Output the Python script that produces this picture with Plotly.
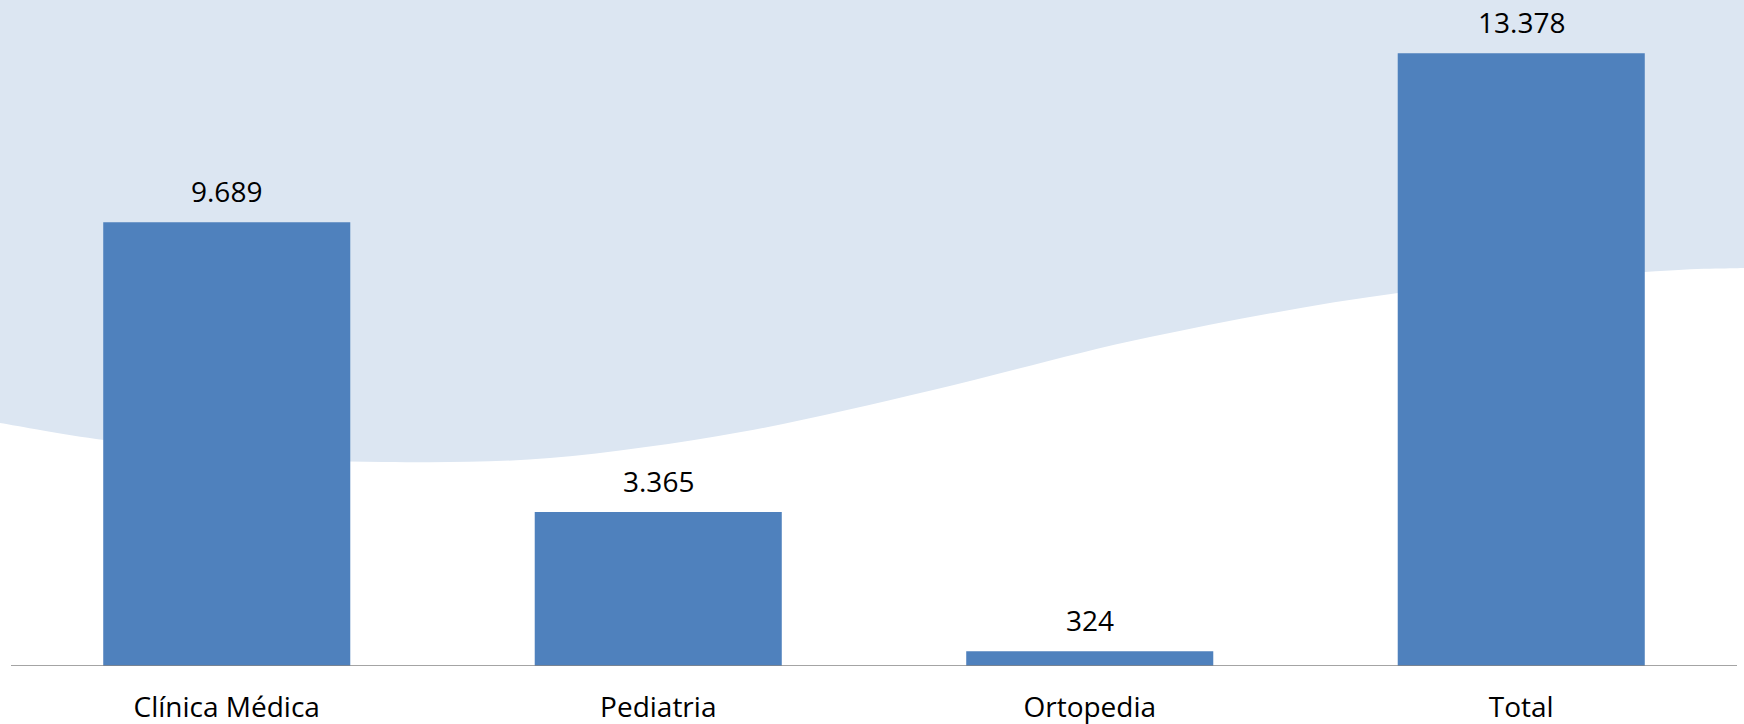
import plotly.graph_objects as go

# ---- data ----
categories = ["Clínica Médica", "Pediatria", "Ortopedia", "Total"]
values = [9689, 3365, 324, 13378]

# ---- decorative background wave (page pixels: x, y of the lower edge) ----
WAVE_EDGE = [(0, 423), (104, 440), (250, 456), (383, 462), (550, 458), (741, 432),
             (933, 390), (1150, 337), (1398, 293), (1645, 272), (1744, 268)]

W, H = 1744, 724
MB = 58
AXIS_LEFT, AXIS_RIGHT = 11, 1737   # pixel extent of the category axis line
Y_MAX = 14541

BAR_COLOR = "#4F81BD"
WAVE_COLOR = "#DCE6F2"
FONT = "Open Sans"

n_cat = len(categories)
slot = (AXIS_RIGHT - AXIS_LEFT) / n_cat
x_lo = -0.5 - AXIS_LEFT / slot
x_hi = n_cat - 0.5 + (W - AXIS_RIGHT) / slot


def to_paper(px, py):
    return px / W, (H - MB - py) / (H - MB)


def wave_path():
    pts = [to_paper(x, y) for x, y in WAVE_EDGE]
    p0 = to_paper(0, -5)
    p1 = to_paper(W, -5)
    d = f"M {p0[0]},{p0[1]} L {pts[0][0]},{pts[0][1]} "
    n = len(pts)
    for i in range(n - 1):
        a = pts[i - 1] if i > 0 else pts[i]
        b = pts[i]
        c = pts[i + 1]
        e = pts[i + 2] if i + 2 < n else pts[i + 1]
        c1 = (b[0] + (c[0] - a[0]) / 6, b[1] + (c[1] - a[1]) / 6)
        c2 = (c[0] - (e[0] - b[0]) / 6, c[1] - (e[1] - b[1]) / 6)
        d += f"C {c1[0]},{c1[1]} {c2[0]},{c2[1]} {c[0]},{c[1]} "
    d += f"L {p1[0]},{p1[1]} Z"
    return d


fig = go.Figure()
fig.add_trace(go.Bar(
    x=categories, y=values,
    marker=dict(color=BAR_COLOR, line=dict(width=0)),
    hoverinfo="x+y",
))

for c, v in zip(categories, values):
    fig.add_annotation(
        x=c, y=v, text=f"{v:,}".replace(",", "."),
        showarrow=False, yanchor="bottom", yshift=10,
        font=dict(family=FONT, size=28, color="#000000"),
    )

fig.add_shape(type="path", xref="paper", yref="paper", path=wave_path(),
              fillcolor=WAVE_COLOR, line=dict(width=0), layer="below")

# category axis baseline spanning the category slots
fig.add_shape(type="line", xref="x", yref="y", x0=-0.5, x1=n_cat - 0.5, y0=0, y1=0,
              line=dict(color="#868686", width=1.5), layer="above")

fig.update_layout(
    width=W, height=H,
    margin=dict(l=0, r=0, t=0, b=MB, pad=0),
    paper_bgcolor="white", plot_bgcolor="rgba(0,0,0,0)",
    bargap=0.4275,
    showlegend=False,
    font=dict(family=FONT, size=28, color="#000000"),
)
fig.update_xaxes(
    range=[x_lo, x_hi], automargin=False,
    showgrid=False, zeroline=False, showline=False,
    ticks="outside", ticklen=16, tickcolor="rgba(0,0,0,0)",
    tickfont=dict(family=FONT, size=28, color="#000000"),
)
fig.update_yaxes(
    range=[0, Y_MAX], visible=False, showgrid=False, zeroline=False, automargin=False,
)

fig.write_html(
    "out.html",
    config={"displayModeBar": False},
    post_script="document.body.style.margin='0px'; document.body.style.overflow='hidden';",
)
